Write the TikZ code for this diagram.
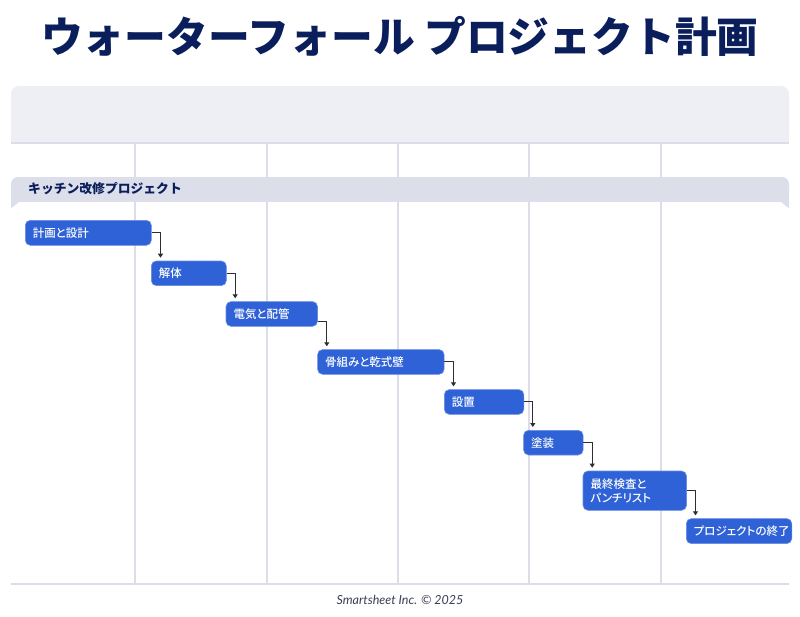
\documentclass[tikz,border=0pt]{standalone}
\usepackage{fontspec}
\newfontfamily\jp{Noto Sans CJK JP}
\newfontfamily\jptask{Noto Sans CJK JP Medium}[RawFeature=+palt]
\newfontfamily\footfont{Lato}
\usetikzlibrary{arrows.meta,calc}
\definecolor{navy}{RGB}{10,30,92}
\definecolor{headfill}{RGB}{238,239,245}
\definecolor{barfill}{RGB}{220,222,233}
\definecolor{gridc}{RGB}{220,221,233}
\definecolor{taskblue}{RGB}{46,98,214}
\definecolor{taskedge}{RGB}{105,140,228}
\definecolor{connc}{RGB}{45,45,50}
\definecolor{footc}{RGB}{59,63,84}
\begin{document}
\begin{tikzpicture}[x=1pt,y=-1pt,
  tasknode/.style={fill=taskblue, draw=taskedge, line width=0.6pt, rounded corners=5pt,
    anchor=north west, inner xsep=7.5pt, inner ysep=0pt, align=left, text=white,
    font=\jptask\fontsize{11.5}{14}\selectfont},
  conn/.style={draw=connc, line width=1pt, -{Triangle[width=5pt,length=4pt]}, shorten >=3pt},
  gridline/.style={draw=gridc, line width=2pt}]
\useasboundingbox[fill=white] (0,0) rectangle (800,616);

% title
\node[text=navy, font=\jp\bfseries\fontsize{41.8}{48}\selectfont] (title) at (400,36) {ウォーターフォール プロジェクト計画};

% header box
\fill[headfill, rounded corners=8pt] (11,86) rectangle (789,143);
\fill[headfill] (11,120) rectangle (789,143);
\draw[gridline] (11,143) -- (789,143);

% grid lines
\foreach \gx in {135,267,398,529,661}
  \draw[gridline] (\gx,143) -- (\gx,584);
\draw[gridline] (11,584) -- (789,584);

% project bar
\fill[barfill, rounded corners=7pt] (11,177) rectangle (789,201.5);
\fill[barfill] (11,190) rectangle (789,201.5);
\fill[barfill, rounded corners=1pt] (11,201) -- (11,208.5) -- (20,201) -- cycle;
\fill[barfill, rounded corners=1pt] (789,201) -- (789,208.5) -- (780,201) -- cycle;
\node[anchor=west, text=navy, font=\jp\bfseries\fontsize{12.8}{15}\selectfont, inner sep=0pt] (bar) at (28,188.5) {キッチン改修プロジェクト};

% tasks
\node[tasknode, text width=111pt, minimum height=25pt] (t1) at (25,220) {計画と設計};
\node[tasknode, text width=60pt, minimum height=24.6pt] (t2) at (151,260.7) {解体};
\node[tasknode, text width=76.5pt, minimum height=24.7pt] (t3) at (225.7,301.3) {電気と配管};
\node[tasknode, text width=111.5pt, minimum height=24.7pt] (t4) at (317.3,349.3) {骨組みと乾式壁};
\node[tasknode, text width=64.5pt, minimum height=24.7pt] (t5) at (444,389.3) {設置};
\node[tasknode, text width=44.5pt, minimum height=24.7pt] (t6) at (523.3,430) {塗装};
\node[tasknode, text width=88.5pt, minimum height=39.3pt] (t7) at (582.7,470.7) {最終検査と\\パンチリスト};
\node[tasknode, text width=90.5pt, minimum height=25pt] (t8) at (686,518.3) {プロジェクトの終了};

% connectors
\draw[conn] (t1.east) -| ($(t2.north west)+(9.5,0)$);
\draw[conn] (t2.east) -| ($(t3.north west)+(9.5,0)$);
\draw[conn] ($(t3.south east)+(0,-5)$) -| ($(t4.north west)+(9.5,0)$);
\draw[conn] (t4.east) -| ($(t5.north west)+(9.5,0)$);
\draw[conn] (t5.east) -| ($(t6.north west)+(9.5,0)$);
\draw[conn] (t6.east) -| ($(t7.north west)+(9.5,0)$);
\draw[conn] (t7.east) -| ($(t8.north west)+(9.5,0)$);

% footer
\node[text=footc, font=\footfont\itshape\fontsize{12.5}{15}\selectfont] (foot) at (400,599.5) {Smartsheet Inc. © 2025};
\end{tikzpicture}
\end{document}
